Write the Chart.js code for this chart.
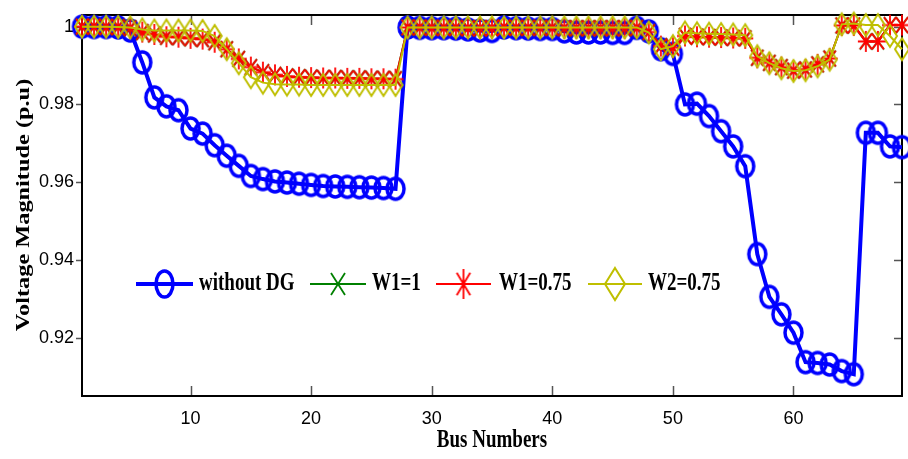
<!DOCTYPE html>
<html>
<head>
<meta charset="utf-8">
<script src="https://cdn.jsdelivr.net/npm/chart.js@4.4.1/dist/chart.umd.min.js"></script>
<style>
  html, body { margin: 0; padding: 0; background: #fff; overflow: hidden; }
  #wrap { width: 908px; height: 459px; position: relative; }
</style>
</head>
<body>
<div id="wrap"><canvas id="voltage"></canvas></div>
<script>
const busNumbers = [
  1, 2, 3, 4, 5, 6, 7, 8, 9, 10, 11, 12, 13, 14, 15, 16, 17, 18, 19, 20,
  21, 22, 23, 24, 25, 26, 27, 28, 29, 30, 31, 32, 33, 34, 35, 36, 37, 38, 39, 40,
  41, 42, 43, 44, 45, 46, 47, 48, 49, 50, 51, 52, 53, 54, 55, 56, 57, 58, 59, 60,
  61, 62, 63, 64, 65, 66, 67, 68, 69
];

const withoutDG = [
  1.0000, 0.9999, 0.9999, 0.9998, 0.9990, 0.9908, 0.9818, 0.9795, 0.9785, 0.9738,
  0.9725, 0.9695, 0.9668, 0.9642, 0.9616, 0.9608, 0.9602, 0.9599, 0.9596, 0.9593,
  0.9590, 0.9589, 0.9588, 0.9587, 0.9586, 0.9585, 0.9583, 0.9998, 0.9997, 0.9996,
  0.9996, 0.9995, 0.9993, 0.9990, 0.9989, 0.9998, 0.9996, 0.9995, 0.9994, 0.9994,
  0.9988, 0.9985, 0.9985, 0.9985, 0.9984, 0.9984, 0.9997, 0.9988, 0.9942, 0.9930,
  0.9800, 0.9802, 0.9770, 0.9731, 0.9692, 0.9641, 0.9415, 0.9305, 0.9260, 0.9213,
  0.9137, 0.9135, 0.9131, 0.9114, 0.9106, 0.9727, 0.9727, 0.9692, 0.9690
];

const w1One = [
  1.0000, 1.0000, 0.9999, 0.9999, 0.9996, 0.9986, 0.9980, 0.9974, 0.9973, 0.9970,
  0.9968, 0.9960, 0.9942, 0.9917, 0.9896, 0.9883, 0.9876, 0.9872, 0.9870, 0.9869,
  0.9868, 0.9868, 0.9867, 0.9867, 0.9866, 0.9866, 0.9865, 0.9998, 0.9998, 0.9997,
  0.9997, 0.9997, 0.9996, 0.9996, 0.9996, 0.9998, 0.9997, 0.9997, 0.9997, 0.9997,
  0.9996, 0.9996, 0.9996, 0.9996, 0.9996, 0.9996, 0.9997, 0.9986, 0.9950, 0.9946,
  0.9976, 0.9974, 0.9973, 0.9972, 0.9971, 0.9970, 0.9920, 0.9907, 0.9896, 0.9887,
  0.9890, 0.9903, 0.9918, 1.0003, 1.0003, 0.9962, 0.9962, 1.0004, 1.0004
];

const w1Point75 = [
  1.0000, 1.0000, 0.9999, 0.9999, 0.9996, 0.9986, 0.9980, 0.9974, 0.9973, 0.9970,
  0.9968, 0.9960, 0.9942, 0.9917, 0.9896, 0.9883, 0.9876, 0.9872, 0.9870, 0.9869,
  0.9868, 0.9868, 0.9867, 0.9867, 0.9866, 0.9866, 0.9865, 0.9998, 0.9998, 0.9997,
  0.9997, 0.9997, 0.9996, 0.9996, 0.9996, 0.9998, 0.9997, 0.9997, 0.9997, 0.9997,
  0.9996, 0.9996, 0.9996, 0.9996, 0.9996, 0.9996, 0.9997, 0.9986, 0.9950, 0.9946,
  0.9976, 0.9974, 0.9973, 0.9972, 0.9971, 0.9970, 0.9920, 0.9907, 0.9896, 0.9887,
  0.9890, 0.9903, 0.9918, 1.0003, 1.0003, 0.9962, 0.9962, 1.0004, 1.0004
];

const w2Point75 = [
  1.0000, 1.0000, 1.0000, 0.9999, 0.9998, 0.9993, 0.9990, 0.9990, 0.9990, 0.9990,
  0.9989, 0.9976, 0.9942, 0.9906, 0.9870, 0.9856, 0.9852, 0.9851, 0.9851, 0.9850,
  0.9850, 0.9850, 0.9850, 0.9850, 0.9850, 0.9850, 0.9850, 0.9998, 0.9998, 0.9998,
  0.9998, 0.9998, 0.9998, 0.9998, 0.9998, 0.9998, 0.9998, 0.9998, 0.9998, 0.9998,
  0.9998, 0.9998, 0.9998, 0.9998, 0.9998, 0.9998, 0.9998, 0.9985, 0.9942, 0.9950,
  0.9985, 0.9983, 0.9982, 0.9981, 0.9980, 0.9978, 0.9924, 0.9906, 0.9893, 0.9886,
  0.9888, 0.9898, 0.9915, 1.0006, 1.0008, 1.0004, 1.0004, 0.9976, 0.9942
];

const seriesNames = ['without DG', 'W1=1', 'W1=0.75', 'W2=0.75'];
const xTicks = [10, 20, 30, 40, 50, 60];
const yTicks = [0.92, 0.94, 0.96, 0.98, 1];

const BLUE = 'rgb(0,0,255)';
const GREEN = 'rgb(0,128,0)';
const RED = 'rgb(255,0,0)';
const YELLOW = 'rgb(191,191,0)';
const SERIF = '"Liberation Serif", "Times New Roman", serif';

// hollow marker drawn on a small canvas (markers are a bit taller than wide)
function marker(kind, color, w, h, lw) {
  const pad = Math.ceil(lw) + 1;
  const c = document.createElement('canvas');
  c.width = w + pad * 2;
  c.height = h + pad * 2;
  const g = c.getContext('2d');
  const cx = c.width / 2, cy = c.height / 2, rx = w / 2, ry = h / 2;
  g.strokeStyle = color;
  g.lineWidth = lw;
  g.beginPath();
  if (kind === 'circle') {
    g.ellipse(cx, cy, rx, ry, 0, 0, Math.PI * 2);
  } else if (kind === 'diamond') {
    g.moveTo(cx, cy - ry);
    g.lineTo(cx + rx, cy);
    g.lineTo(cx, cy + ry);
    g.lineTo(cx - rx, cy);
    g.closePath();
  } else if (kind === 'x') {
    g.moveTo(cx - rx, cy - ry); g.lineTo(cx + rx, cy + ry);
    g.moveTo(cx + rx, cy - ry); g.lineTo(cx - rx, cy + ry);
  } else if (kind === 'star') {
    g.moveTo(cx, cy - ry); g.lineTo(cx, cy + ry);
    g.moveTo(cx - rx, cy); g.lineTo(cx + rx, cy);
    g.moveTo(cx - rx * 0.75, cy - ry * 0.75); g.lineTo(cx + rx * 0.75, cy + ry * 0.75);
    g.moveTo(cx + rx * 0.75, cy - ry * 0.75); g.lineTo(cx - rx * 0.75, cy + ry * 0.75);
  }
  g.stroke();
  return c;
}

const styles = [
  { color: BLUE, width: 4, point: marker('circle', BLUE, 17, 21, 3.5), key: marker('circle', BLUE, 17, 26, 3.5) },
  { color: GREEN, width: 2, point: marker('x', GREEN, 12, 16, 1.6), key: marker('x', GREEN, 14, 22, 1.8) },
  { color: RED, width: 2, point: marker('star', RED, 16, 21, 1.8), key: marker('star', RED, 18, 30, 1.8) },
  { color: YELLOW, width: 2, point: marker('diamond', YELLOW, 14, 22, 2), key: marker('diamond', YELLOW, 20, 32, 2) }
];

const values = [withoutDG, w1One, w1Point75, w2Point75];

function stretchText(ctx, text, x, y, s, vertical) {
  ctx.save();
  ctx.translate(x, y);
  if (vertical) {
    ctx.rotate(-Math.PI / 2);
    ctx.scale(s, 1);
  } else {
    ctx.scale(1, s);
  }
  ctx.fillText(text, 0, 0);
  ctx.restore();
}

// box around the axes with tick marks
const frame = {
  id: 'frame',
  beforeDatasetsDraw(chart) {
    const { ctx, chartArea: a, scales: { x, y } } = chart;
    ctx.save();
    ctx.strokeStyle = '#555';
    ctx.lineWidth = 1.5;
    ctx.beginPath();
    xTicks.forEach(v => {
      const px = Math.round(x.getPixelForValue(v)) + 0.5;
      ctx.moveTo(px, a.bottom); ctx.lineTo(px, a.bottom - 10);
      ctx.moveTo(px, a.top); ctx.lineTo(px, a.top + 10);
    });
    yTicks.forEach(v => {
      const py = Math.round(y.getPixelForValue(v)) + 0.5;
      ctx.moveTo(a.left - 6, py); ctx.lineTo(a.left, py);
      ctx.moveTo(a.right, py); ctx.lineTo(a.right - 8, py);
    });
    ctx.stroke();
    ctx.strokeStyle = '#000';
    ctx.lineWidth = 2;
    ctx.strokeRect(a.left, a.top, a.right - a.left, a.bottom - a.top);
    ctx.restore();
  }
};

// legend row inside the plot, plus the axis titles
const legendRow = [
  { x0: 136, x1: 193, tx: 199 },
  { x0: 310, x1: 366, tx: 372 },
  { x0: 436, x1: 491, tx: 499 },
  { x0: 588, x1: 642, tx: 648 }
];

const annotations = {
  id: 'annotations',
  afterDraw(chart) {
    const { ctx, chartArea: a } = chart;
    ctx.save();
    const ly = 284;
    legendRow.forEach((r, i) => {
      const st = styles[i];
      ctx.strokeStyle = st.color;
      ctx.lineWidth = st.width;
      ctx.beginPath();
      ctx.moveTo(r.x0, ly);
      ctx.lineTo(r.x1, ly);
      ctx.stroke();
      const cx = (r.x0 + r.x1) / 2;
      ctx.drawImage(st.key, cx - st.key.width / 2, ly - st.key.height / 2);
      ctx.fillStyle = '#000';
      ctx.font = 'bold 19px ' + SERIF;
      ctx.textAlign = 'left';
      ctx.textBaseline = 'middle';
      stretchText(ctx, seriesNames[i], r.tx, ly, 1.3, false);
    });

    ctx.fillStyle = '#000';
    ctx.textAlign = 'center';
    ctx.textBaseline = 'middle';
    ctx.font = 'bold 19px ' + SERIF;
    stretchText(ctx, 'Bus Numbers', (a.left + a.right) / 2, 441, 1.3, false);
    stretchText(ctx, 'Voltage Magnitude (p.u)', 24, 205, 1.28, true);
    ctx.restore();
  }
};

const datasets = values.map((vals, i) => ({
  label: seriesNames[i],
  data: busNumbers.map((b, k) => ({ x: b, y: vals[k] })),
  borderColor: styles[i].color,
  borderWidth: styles[i].width,
  pointStyle: styles[i].point,
  pointRadius: 9,
  pointHoverRadius: 9,
  fill: false,
  tension: 0,
  clip: false,
  order: 4 - i
}));

const tickFont = { family: '"Liberation Sans", Arial, sans-serif', size: 18 };

new Chart(document.getElementById('voltage'), {
  type: 'line',
  data: { datasets },
  options: {
    responsive: true,
    maintainAspectRatio: false,
    animation: false,
    layout: { autoPadding: false, padding: { top: 15, right: 6, bottom: 0, left: 0 } },
    plugins: {
      legend: { display: false },
      tooltip: { enabled: false }
    },
    scales: {
      x: {
        type: 'linear',
        min: 1,
        max: 69,
        grid: { display: false, drawTicks: false },
        border: { display: false },
        ticks: { font: tickFont, color: '#000', padding: 12, autoSkip: false, maxRotation: 0 },
        afterBuildTicks: s => { s.ticks = xTicks.map(v => ({ value: v })); },
        afterFit: s => {
          s.height = 63;
          s.paddingLeft = 0;
          s.paddingRight = 0;
        }
      },
      y: {
        min: 0.905,
        max: 1.003,
        grid: { display: false, drawTicks: false },
        border: { display: false },
        ticks: {
          font: tickFont,
          color: '#000',
          padding: 8,
          callback: v => (v === 1 ? '1' : v.toFixed(2))
        },
        afterBuildTicks: s => { s.ticks = yTicks.map(v => ({ value: v })); },
        afterFit: s => {
          s.width = 82;
          s.paddingTop = 0;
          s.paddingBottom = 0;
        }
      }
    }
  },
  plugins: [frame, annotations]
});
</script>
</body>
</html>
